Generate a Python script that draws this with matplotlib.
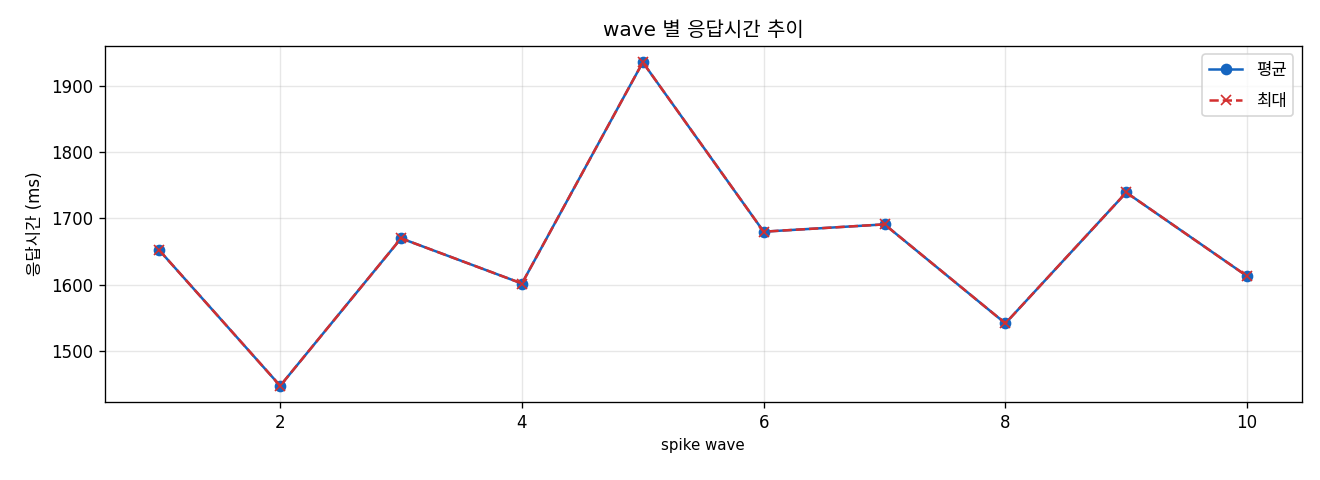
import matplotlib
matplotlib.use("Agg")
import matplotlib.pyplot as plt

plt.rcParams['font.family'] = ['DejaVu Sans', 'Noto Sans CJK KR']
plt.rcParams['axes.unicode_minus'] = False

waves = [1, 2, 3, 4, 5, 6, 7, 8, 9, 10]
avg_ms = [1652, 1448, 1670, 1602, 1935, 1680, 1691, 1542, 1739, 1613]
max_ms = [1652, 1448, 1670, 1602, 1935, 1680, 1691, 1542, 1739, 1613]

fig, ax = plt.subplots(figsize=(11, 4), dpi=120)
ax.plot(waves, avg_ms, color='#1565C0', marker='o', linestyle='-', linewidth=1.5, markersize=6, label='평균')
ax.plot(waves, max_ms, color='#D32F2F', marker='x', linestyle='--', linewidth=1.5, markersize=6, label='최대')
ax.set_title('wave 별 응답시간 추이', fontsize=12)
ax.set_xlabel('spike wave', fontsize=9)
ax.set_ylabel('응답시간 (ms)', fontsize=10)
ax.tick_params(labelsize=10)
ax.grid(True, alpha=0.3)
ax.legend(loc='upper right', fontsize=10, labelspacing=0.75)
fig.subplots_adjust(left=0.0795, right=0.986, top=0.904, bottom=0.1625)
fig.savefig('out.png', dpi=120)
